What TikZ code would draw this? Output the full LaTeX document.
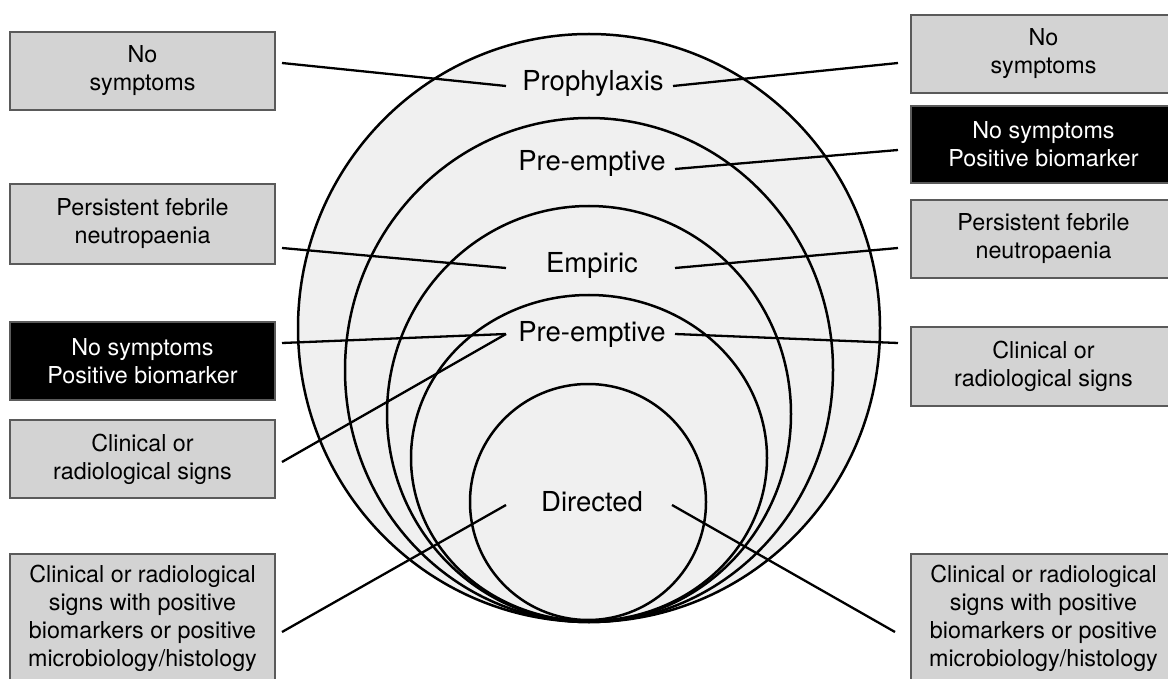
\documentclass[tikz,border=0pt]{standalone}
\usepackage{fontspec}
\setmainfont{TeX Gyre Heros}
\definecolor{boxgray}{HTML}{D3D3D3}
\definecolor{boxline}{HTML}{5A5A5A}
\definecolor{ringfill}{HTML}{F0F0F0}
\begin{document}
\begin{tikzpicture}[x=1pt,y=-1pt,
  box/.style={draw=boxline, line width=1.5pt, fill=boxgray, minimum width=265pt,
    align=center, font=\fontsize{23.3}{28}\selectfont, inner sep=0pt},
  darkbox/.style={box, fill=black, text=white},
  lbl/.style={font=\fontsize{27.5}{30}\selectfont, inner sep=0pt},
  ring/.style={line width=2.5pt, draw=black},
  conn/.style={line width=2.3pt, draw=black}]
\useasboundingbox (0,0) rectangle (1168,679);
\clip (0,0) rectangle (1168,679);
\fill[white] (0,0) rectangle (1168,679);

% nested rings
\path[ring, fill=ringfill] (589,328) ellipse [x radius=291pt, y radius=294pt];
\path[ring] (589,370) ellipse [x radius=244pt, y radius=252pt];
\path[ring] (589,414) ellipse [x radius=202pt, y radius=208pt];
\path[ring] (589,458) ellipse [x radius=178pt, y radius=163pt];
\path[ring] (588,502) ellipse [x radius=118pt, y radius=118pt];

% ring labels
\node[lbl] (proph) at (593,83) {Prophylaxis};
\node[lbl] (pre1) at (592,163) {Pre-emptive};
\node[lbl] (emp) at (592,265) {Empiric};
\node[lbl] (pre2) at (592,334) {Pre-emptive};
\node[lbl] (dir) at (592,502) {Directed};

% left boxes
\node[box, minimum height=78pt] (L1) at (142.5,71) {No\\symptoms};
\node[box, minimum height=80pt] (L2) at (142.5,224) {Persistent febrile\\neutropaenia};
\node[darkbox, minimum height=78pt] (L3) at (142.5,361) {No symptoms\\Positive biomarker};
\node[box, minimum height=78pt] (L4) at (142.5,459) {Clinical or\\radiological signs};
\node[box, minimum height=129pt] (L5) at (142.5,618.5) {Clinical or radiological\\signs with positive\\biomarkers or positive\\microbiology/histology};

% right boxes
\node[box, minimum height=78pt] (R1) at (1043.5,54) {No\\symptoms};
\node[darkbox, minimum height=77pt] (R2) at (1043.5,144.5) {No symptoms\\Positive biomarker};
\node[box, minimum height=78pt] (R3) at (1043.5,239) {Persistent febrile\\neutropaenia};
\node[box, minimum height=79pt] (R4) at (1043.5,366.5) {Clinical or\\radiological signs};
\node[box, minimum height=129pt] (R5) at (1043.5,618.5) {Clinical or radiological\\signs with positive\\biomarkers or positive\\microbiology/histology};

% connector end points
\coordinate (L1c) at (282,63);
\coordinate (L2c) at (282,248);
\coordinate (L3c) at (282,343);
\coordinate (L4c) at (282,462);
\coordinate (L5c) at (282,632);
\coordinate (R1c) at (898,63);
\coordinate (R2c) at (898,150);
\coordinate (R3c) at (898,248);
\coordinate (R4c) at (898,343);
\coordinate (R5c) at (895,632);
\coordinate (prophW) at (506,86);
\coordinate (prophE) at (673,86);
\coordinate (pre1E) at (675,169);
\coordinate (empW) at (506,268);
\coordinate (empE) at (675,268);
\coordinate (pre2W) at (506,334);
\coordinate (pre2E) at (675,334);
\coordinate (dirW) at (506,505);
\coordinate (dirE) at (672,505);

% connectors
\draw[conn] (L1c) -- (prophW);
\draw[conn] (prophE) -- (R1c);
\draw[conn] (pre1E) -- (R2c);
\draw[conn] (L2c) -- (empW);
\draw[conn] (empE) -- (R3c);
\draw[conn] (L3c) -- (pre2W);
\draw[conn] (L4c) -- (pre2W);
\draw[conn] (pre2E) -- (R4c);
\draw[conn] (L5c) -- (dirW);
\draw[conn] (dirE) -- (R5c);
\end{tikzpicture}
\end{document}
